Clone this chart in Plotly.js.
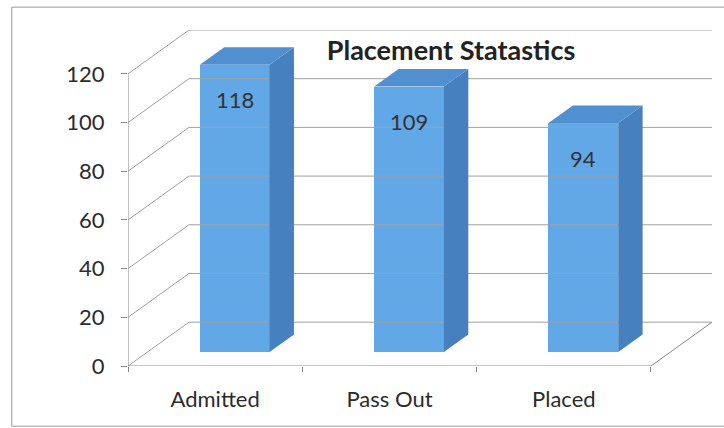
<!DOCTYPE html>
<html>
<head>
<meta charset="utf-8">
<script src="https://cdn.plot.ly/plotly-3.0.1.min.js"></script>
<style>html,body{margin:0;padding:0;background:#fff;}#chart{width:724px;height:428px;}</style>
</head>
<body>
<div id="chart"></div>
<script>
// ---- data ----
const categories = ['Admitted', 'Pass Out', 'Placed'];
const values = [118, 109, 94];
const yTicks = [0, 20, 40, 60, 80, 100, 120];
const chartTitle = 'Placement Statastics';

// ---- oblique projection geometry (in axis units) ----
const DX = 0.35;   // depth shift along x for the back wall
const DY = 18;     // depth shift along y for the back wall
const F1 = 0.32;   // bar front depth fraction
const F2 = 0.72;   // bar back depth fraction
const BW = 0.4;    // bar width
const X0 = -0.5, X1 = categories.length - 0.5;
const yMax = yTicks[yTicks.length - 1];

const frontCol = '#62a8e6', topCol = '#5190d0', sideCol = '#4780be';
const gridCol = '#a0a0a0', axisCol = '#888888';

const traces = [];

// back wall + left wall grid lines
const gx = [], gy = [];
yTicks.forEach(v => {
  gx.push(X0, X0 + DX, X1 + DX, null);
  gy.push(v, v + DY, v + DY, null);
});
traces.push({type: 'scatter', mode: 'lines', x: gx, y: gy, hoverinfo: 'skip',
  line: {color: gridCol, width: 1}, showlegend: false});

// floor front edge, right floor edge, vertical axis line
traces.push({type: 'scatter', mode: 'lines',
  x: [X0, X1, X1 + DX, null, X0, X0],
  y: [0, 0, DY, null, 0, yMax], hoverinfo: 'skip',
  line: {color: axisCol, width: 1}, showlegend: false});

// bars: front faces
const idx = categories.map((c, i) => i);
const bx = idx.map(i => i + F1 * DX);
const base = F1 * DY;
traces.push({type: 'bar', x: bx, y: values, base: values.map(() => base), width: BW,
  marker: {color: frontCol, line: {width: 0}}, showlegend: false, hoverinfo: 'skip'});

// side and top faces
const dDX = (F2 - F1) * DX, dDY = (F2 - F1) * DY;
values.forEach((v, i) => {
  const xl = bx[i] - BW / 2, xr = bx[i] + BW / 2;
  const yb = base, yt = base + v;
  traces.push({type: 'scatter', mode: 'lines', fill: 'toself', fillcolor: sideCol,
    x: [xr, xr + dDX, xr + dDX, xr, xr], y: [yb, yb + dDY, yt + dDY, yt, yb],
    line: {width: 0, color: sideCol}, hoverinfo: 'skip', showlegend: false});
  traces.push({type: 'scatter', mode: 'lines', fill: 'toself', fillcolor: topCol,
    x: [xl, xr, xr + dDX, xl + dDX, xl], y: [yt, yt, yt + dDY, yt + dDY, yt],
    line: {width: 0, color: topCol}, hoverinfo: 'skip', showlegend: false});
});

const annotations = values.map((v, i) => ({
  x: bx[i], y: base + v, xref: 'x', yref: 'y', text: String(v), showarrow: false,
  yanchor: 'middle', yshift: -35, font: {family: 'Lato, sans-serif', size: 22, color: '#333'}
}));

const layout = {
  width: 724, height: 428,
  margin: {l: 128, r: 12, t: 30, b: 62},
  paper_bgcolor: '#fff', plot_bgcolor: 'rgba(0,0,0,0)',
  font: {family: 'Lato, sans-serif', color: '#2b2b2b'},
  title: {text: chartTitle, x: 0.623, xanchor: 'center', y: 0.882, yanchor: 'middle',
    xref: 'container', yref: 'container',
    font: {family: 'Lato, sans-serif', size: 27, weight: 'bold', color: '#222'}},
  xaxis: {range: [X0, X1 + DX], tickvals: idx, ticktext: categories, ticks: '',
    showgrid: false, zeroline: false, showline: false, fixedrange: true,
    tickfont: {size: 22, color: '#2b2b2b'}, ticklabelstandoff: 18,
    minor: {tickvals: [X0, 0.5, 1.5, X1], ticks: 'outside', ticklen: 5, tickcolor: axisCol, showgrid: false}},
  yaxis: {range: [0, yMax + DY], tickvals: yTicks, ticks: 'outside', ticklen: 6, tickcolor: axisCol,
    showgrid: false, zeroline: false, showline: false, fixedrange: true,
    tickfont: {size: 22, color: '#2b2b2b'}, ticklabelstandoff: 12},
  bargap: 0,
  annotations: annotations,
  shapes: [{type: 'rect', xref: 'paper', yref: 'paper', x0: -0.199, x1: 1.05, y0: -0.179, y1: 1.068,
    line: {color: '#9a9a9a', width: 1}, fillcolor: 'rgba(0,0,0,0)', layer: 'below'}]
};

Plotly.newPlot('chart', traces, layout, {staticPlot: true, displayModeBar: false});
</script>
</body>
</html>
